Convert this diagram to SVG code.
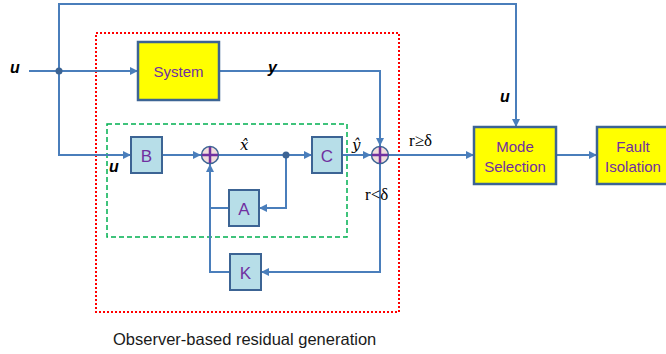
<svg xmlns="http://www.w3.org/2000/svg" width="666" height="354" viewBox="0 0 666 354">
<defs>
<marker id="arr" viewBox="0 0 10 10" refX="10" refY="5" markerWidth="8" markerHeight="8" markerUnits="userSpaceOnUse" orient="auto">
<path d="M0,0 L10,5 L0,10 Z" fill="#4a7ebb"/>
</marker>
</defs>
<style>
.ln{fill:none;stroke:#4a7ebb;stroke-width:2}
.blk{fill:#b7dee8;stroke:#3c6494;stroke-width:2}
.yel{fill:#ffff00;stroke:#3c6494;stroke-width:2.5}
.lbl{font-family:"Liberation Sans",Arial,sans-serif;fill:#7030a0;text-anchor:middle}
.sum circle{fill:#f2dcdb;stroke:#3c6494;stroke-width:1.5}
.sum path{stroke:#7030a0;stroke-width:2.5;fill:none}
.var{font-family:"Liberation Sans",Arial,sans-serif;font-weight:bold;font-style:italic;font-size:16px;fill:#000}
.math{font-family:"DejaVu Serif","Liberation Serif",serif;font-style:italic;font-size:15px;fill:#000}
.rel{font-family:"Liberation Serif","Times New Roman",serif;font-size:17px;fill:#000}
.dot{fill:#3c6494}
</style>
<rect x="96" y="33" width="303" height="279" fill="none" stroke="#ff0000" stroke-width="2" stroke-dasharray="2,2"/>
<rect x="107" y="124" width="240" height="113" fill="none" stroke="#00b050" stroke-width="1.5" stroke-dasharray="5,3"/>
<g id="connectors">
<path class="ln" d="M59,71 V4 H516 V127" marker-end="url(#arr)"/>
<path class="ln" d="M29,71 H138" marker-end="url(#arr)"/>
<path class="ln" d="M59,71 V155 H131" marker-end="url(#arr)"/>
<path class="ln" d="M162,155 H201" marker-end="url(#arr)"/>
<path class="ln" d="M219,155 H312" marker-end="url(#arr)"/>
<path class="ln" d="M286,155 V208 H259" marker-end="url(#arr)"/>
<path class="ln" d="M229,208 H210"/>
<path class="ln" d="M230,272 H210 V164" marker-end="url(#arr)"/>
<path class="ln" d="M342,155 H371" marker-end="url(#arr)"/>
<path class="ln" d="M219,71 H380 V146" marker-end="url(#arr)"/>
<path class="ln" d="M389,155 H474" marker-end="url(#arr)"/>
<path class="ln" d="M380,164 V272 H261" marker-end="url(#arr)"/>
<path class="ln" d="M556,155 H597" marker-end="url(#arr)"/>
<circle class="dot" cx="59" cy="71" r="3.5"/>
<circle class="dot" cx="286" cy="155" r="3.5"/>
</g>
<g id="system"><rect class="yel" x="138" y="42" width="81" height="58"/><text class="lbl" x="178.5" y="77" font-size="15">System</text></g>
<g id="B"><rect class="blk" x="131" y="137" width="31" height="36"/><text class="lbl" x="146.5" y="161.5" font-size="17">B</text></g>
<g id="C"><rect class="blk" x="312" y="137" width="30" height="36"/><text class="lbl" x="327" y="161.5" font-size="17">C</text></g>
<g id="A"><rect class="blk" x="229" y="190" width="30" height="36"/><text class="lbl" x="244" y="214.5" font-size="17">A</text></g>
<g id="K"><rect class="blk" x="230" y="254" width="31" height="36"/><text class="lbl" x="245.5" y="278.5" font-size="17">K</text></g>
<g id="sum1" class="sum"><circle cx="210" cy="155" r="8.5"/><path d="M210,147 V163 M202,155 H218"/></g>
<g id="sum2" class="sum"><circle cx="380" cy="155" r="8.5"/><path d="M380,147 V163 M372,155 H388"/></g>
<g id="mode"><rect class="yel" x="474" y="127" width="82" height="57"/><text class="lbl" x="515" y="152" font-size="15">Mode</text><text class="lbl" x="515" y="172" font-size="15">Selection</text></g>
<g id="fault"><rect class="yel" x="597" y="127" width="80" height="57"/><text class="lbl" x="633" y="152" font-size="15">Fault</text><text class="lbl" x="633" y="172" font-size="15">Isolation</text></g>
<text class="var" x="10" y="73">u</text>
<text class="var" x="268" y="73">y</text>
<text class="var" x="500" y="102">u</text>
<text class="var" x="109" y="172">u</text>
<text class="math" x="240" y="150">x̂</text>
<text class="math" x="352" y="150">ŷ</text>
<text class="rel" x="409" y="146">r≥δ</text>
<text class="rel" x="365" y="200">r&lt;δ</text>
<text x="113" y="345" font-family="Liberation Sans,Arial,sans-serif" font-size="16.5" fill="#1a1a1a">Observer-based residual generation</text>
</svg>
